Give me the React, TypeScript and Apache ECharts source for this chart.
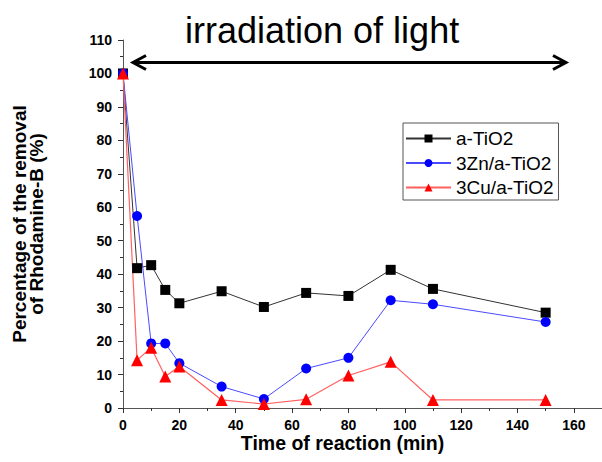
import React, { useEffect, useRef } from "react";
import * as echarts from "echarts";

const times = [0, 5, 10, 15, 20, 35, 50, 65, 80, 95, 110, 150];
const aTiO2 = [100, 41.8, 42.7, 35.3, 31.3, 34.9, 30.2, 34.4, 33.5, 41.3, 35.6, 28.5];
const zn = [100, 57.4, 19.3, 19.3, 13.4, 6.4, 2.7, 11.8, 15.0, 32.2, 31.0, 25.7];
const cu = [100, 14.3, 18.0, 9.4, 12.4, 2.4, 1.2, 2.6, 9.7, 13.8, 2.4, 2.4];
const seriesNames = ["a-TiO2", "3Zn/a-TiO2", "3Cu/a-TiO2"];
const titleText = "irradiation of light";
const xTitle = "Time of reaction (min)";
const yTitle = "Percentage of the removal\nof Rhodamine-B (%)";

const FONT = "Arial, 'Liberation Sans', sans-serif";

function pairs(vals: number[]) {
  return times.map((t, i) => [t, vals[i]]);
}

export default function App() {
  const ref = useRef<HTMLDivElement>(null);
  useEffect(() => {
    if (!ref.current) return;
    const chart = echarts.init(ref.current, null, { renderer: "svg" });
    chart.setOption({
      animation: false,
      backgroundColor: "#ffffff",
      grid: { left: 123, right: 0, top: 40, bottom: 54, containLabel: false },
      legend: {
        orient: "vertical",
        left: 403,
        top: 123,
        padding: [6, 5, 3, 2],
        itemWidth: 45,
        itemHeight: 10,
        itemGap: 5.5,
        borderColor: "#555",
        borderWidth: 1,
        textStyle: { fontFamily: FONT, fontSize: 19, color: "#000", lineHeight: 19 },
        data: seriesNames,
      },
      xAxis: {
        type: "value",
        min: 0,
        max: 170,
        interval: 20,
        axisLine: { show: true, onZero: false, lineStyle: { color: "#555", width: 1 } },
        axisTick: { show: true, length: 5, lineStyle: { color: "#333" } },
        minorTick: { show: true, splitNumber: 2, length: 3, lineStyle: { color: "#333" } },
        axisLabel: {
          showMaxLabel: false,
          margin: 10,
          fontFamily: FONT,
          fontSize: 14,
          fontWeight: "bold",
          color: "#000",
        },
        splitLine: { show: false },
      },
      yAxis: {
        type: "value",
        min: 0,
        max: 110,
        interval: 10,
        name: yTitle,
        nameLocation: "middle",
        nameRotate: 90,
        nameGap: 78,
        nameTextStyle: {
          fontFamily: FONT,
          fontSize: 19,
          fontWeight: "bold",
          color: "#000",
          lineHeight: 17,
        },
        axisLine: { show: true, onZero: false, lineStyle: { color: "#555", width: 1 } },
        axisTick: { show: true, length: 5, lineStyle: { color: "#333" } },
        minorTick: { show: true, splitNumber: 2, length: 3, lineStyle: { color: "#333" } },
        axisLabel: {
          margin: 11,
          fontFamily: FONT,
          fontSize: 14,
          fontWeight: "bold",
          color: "#000",
        },
        splitLine: { show: false },
      },
      graphic: [
        {
          type: "text",
          left: 185,
          top: 12,
          style: { text: titleText, fontFamily: FONT, fontSize: 36, fill: "#000" },
        },
        {
          type: "text",
          x: 342.5,
          y: 443,
          style: {
            text: xTitle,
            fontFamily: FONT,
            fontSize: 19.5,
            fontWeight: "bold",
            fill: "#000",
            align: "center",
            verticalAlign: "middle",
          },
        },
        {
          type: "line",
          shape: { x1: 134, y1: 62.5, x2: 565, y2: 62.5 },
          style: { stroke: "#000", lineWidth: 3 },
        },
        {
          type: "polyline",
          shape: { points: [[146, 55.5], [133, 62.5], [146, 69.5]] },
          style: { stroke: "#000", lineWidth: 3, fill: null },
        },
        {
          type: "polyline",
          shape: { points: [[553, 55.5], [566, 62.5], [553, 69.5]] },
          style: { stroke: "#000", lineWidth: 3, fill: null },
        },
      ],
      series: [
        {
          name: seriesNames[0],
          type: "line",
          data: pairs(aTiO2),
          symbol: "rect",
          symbolSize: 10,
          itemStyle: { color: "#000" },
          lineStyle: { color: "#333", width: 1 },
        },
        {
          name: seriesNames[1],
          type: "line",
          data: pairs(zn),
          symbol: "circle",
          symbolSize: 10,
          itemStyle: { color: "#0000ff" },
          lineStyle: { color: "#4a4aff", width: 1 },
        },
        {
          name: seriesNames[2],
          type: "line",
          data: pairs(cu),
          symbol: "triangle",
          symbolSize: 12,
          itemStyle: { color: "#ff0000" },
          lineStyle: { color: "#ff6060", width: 1.2 },
        },
      ],
    });
    return () => chart.dispose();
  }, []);
  return (
    <div
      ref={ref}
      style={{ position: "absolute", left: 0, top: 0, width: 602, height: 462 }}
    />
  );
}
